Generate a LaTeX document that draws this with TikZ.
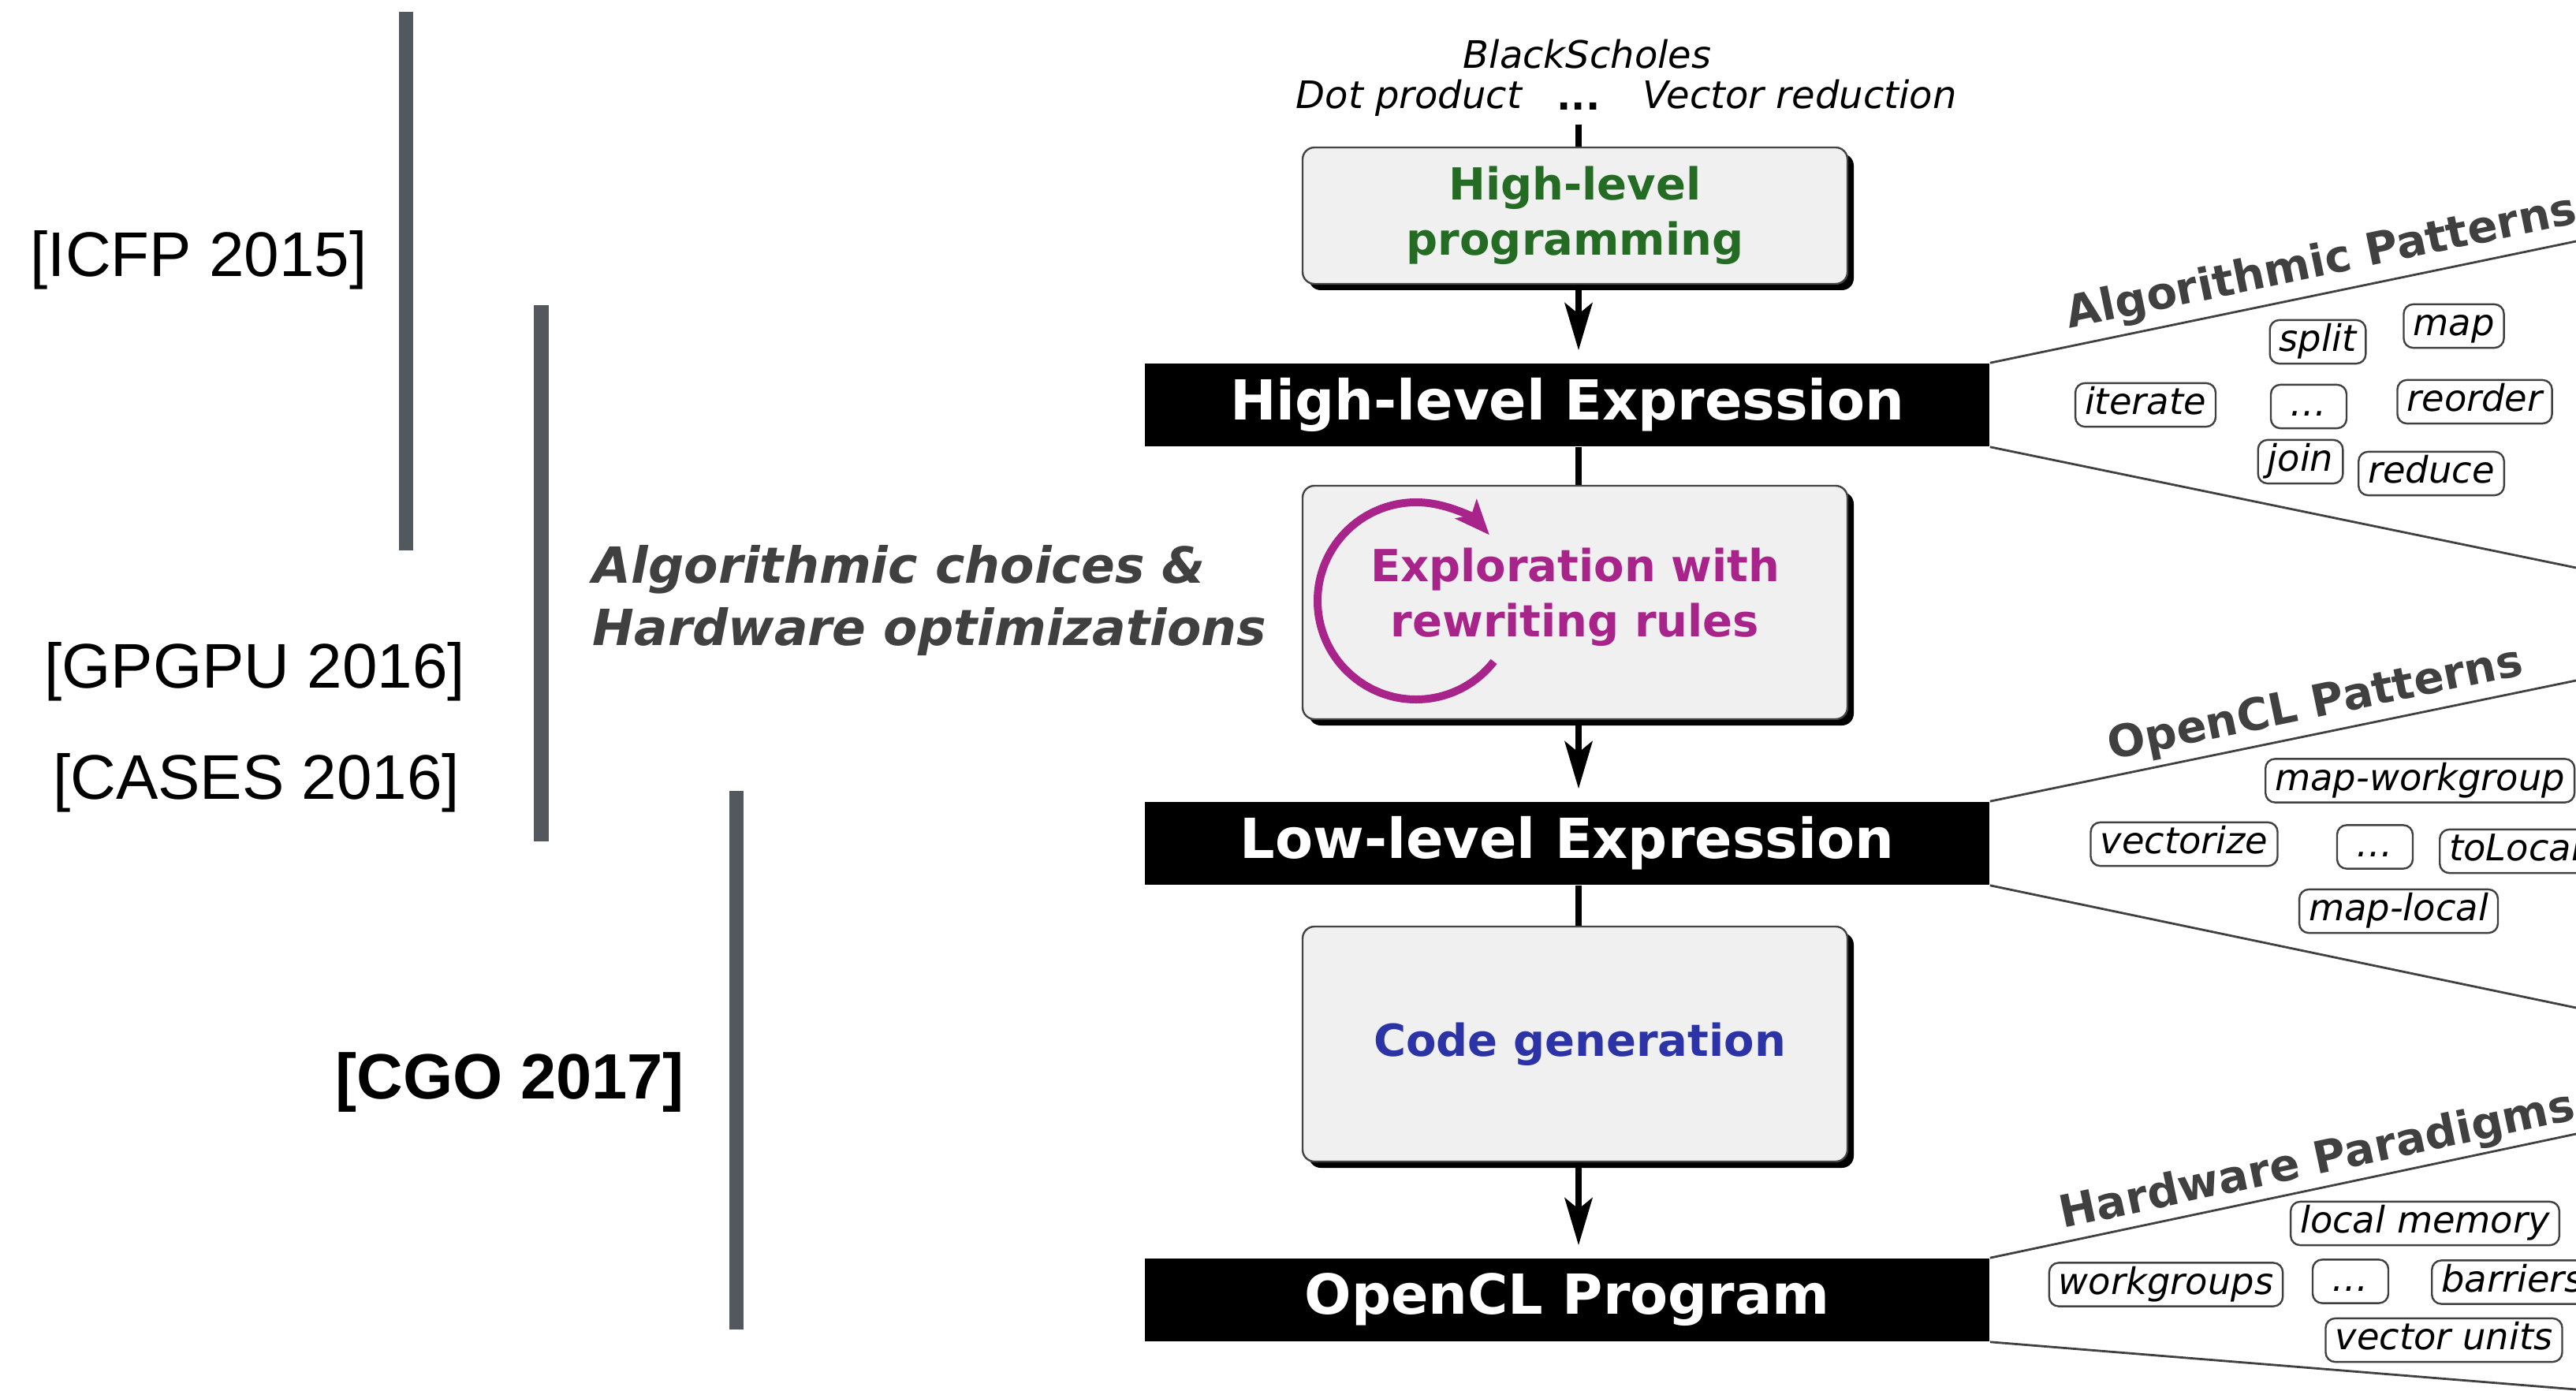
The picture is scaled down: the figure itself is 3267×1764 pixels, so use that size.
\documentclass[tikz,border=0pt]{standalone}
\usepackage{fontspec}
\setmainfont{DejaVu Sans}
\newfontfamily\venuefont{Liberation Sans}
\usetikzlibrary{arrows.meta,shadows}

\definecolor{stageGreen}{HTML}{246B24}
\definecolor{rewriteMagenta}{HTML}{A8238A}
\definecolor{codegenBlue}{HTML}{2B33A6}
\definecolor{timelineGray}{HTML}{53575E}
\definecolor{textGray}{HTML}{404040}
\definecolor{boxFill}{HTML}{F0F0F0}
\definecolor{boxBorder}{HTML}{444444}

\newcommand\setfs[2]{\fontsize{#1}{#2}\selectfont}

\begin{document}
\begin{tikzpicture}[x=0.25pt,y=0.25pt,
  stage/.style={draw=boxBorder, line width=0.6pt, fill=boxFill, rounded corners=3.75pt,
    general shadow={fill=black, shadow xshift=2pt, shadow yshift=-2pt},
    minimum width=172.75pt, align=center, inner sep=0pt, font=\bfseries\setfs{14}{17.5}},
  level/.style={fill=black, text=white, minimum width=267.75pt, minimum height=26.25pt,
    inner sep=0pt, font=\bfseries\setfs{17.5}{21}},
  conn/.style={line width=2pt, draw=black},
  arr/.style={conn, -{Stealth[length=15pt,width=8.75pt,inset=3.5pt]}, shorten >=4pt},
  fan/.style={draw=textGray, line width=0.7pt},
  fanlabel/.style={anchor=base west, text=textGray, inner sep=0pt, font=\bfseries\setfs{14.1}{16}},
  pill/.style={draw=textGray, line width=0.6pt, fill=white, rounded corners=3pt,
    font=\itshape\setfs{11.6}{14}, inner xsep=3pt, inner ysep=1.3pt,
    text height=8.6pt, text depth=2.6pt},
  dotpill/.style={pill, minimum width=24pt},
  venue/.style={anchor=base, inner sep=0pt, font=\venuefont\setfs{20}{24}},
  toplabel/.style={inner sep=0pt, font=\itshape\setfs{12}{14}},
  choice/.style={anchor=base west, inner sep=0pt, text=textGray, font=\bfseries\itshape\setfs{15.8}{19}}
]
\useasboundingbox (0,0) rectangle (3267,-1764);
\clip (0,0) rectangle (3267,-1764);

% publication timeline bars
\fill[timelineGray] (506,-15) rectangle (524,-698);
\fill[timelineGray] (677,-387) rectangle (696,-1067);
\fill[timelineGray] (925,-1003) rectangle (943,-1686);

% venues
\node[venue] (icfp) at (252,-351) {[ICFP 2015]};
\node[venue] (gpgpu) at (323,-872) {[GPGPU 2016]};
\node[venue] (cases) at (325,-1013) {[CASES 2016]};
\node[venue, font=\venuefont\bfseries\setfs{20.3}{24}] (cgo) at (647,-1393) {[CGO 2017]};

% side note
\node[choice] (ch1) at (751,-740) {Algorithmic choices \&};
\node[choice] (ch2) at (751,-818) {Hardware optimizations};

% benchmark inputs
\node[toplabel, anchor=base] (bs) at (2013,-87) {BlackScholes};
\node[toplabel, anchor=base west] (dotp) at (1643,-138) {Dot product};
\node[toplabel, anchor=base west] (vred) at (2083,-138) {Vector reduction};
\node[anchor=base, inner sep=0pt, font=\bfseries\setfs{12}{14}] (more) at (2002,-140) {...};
\coordinate (src) at (2002,-158);

% pipeline stages
\node[stage, minimum height=43.25pt, text=stageGreen] (prog) at (1997.5,-273.5) {High-level\\programming};
\node[level] (hle) at (1987.5,-513.5) {High-level Expression};
\node[stage, minimum height=74pt, text=rewriteMagenta] (explore) at (1997.5,-764)
  {Exploration with\\rewriting rules\rule[-6.3pt]{0pt}{6.3pt}};
\node[level] (lle) at (1987.5,-1069.5) {Low-level Expression};
\node[stage, minimum height=74.5pt, text=codegenBlue] (codegen) at (1997.5,-1324) {\hspace*{3pt}Code generation};
\node[level] (ocl) at (1987.5,-1648.5) {OpenCL Program};

% rewriting loop
\coordinate (loopc) at (1796,-762);
\draw[line width=2.5pt, rewriteMagenta, -{Stealth[length=11pt,width=9pt,inset=2.5pt]}]
  (loopc) ++(-38:125) arc[start angle=-38, end angle=-318, radius=31.25pt];

% connectors along the pipeline
\draw[conn] (src) -- (prog.north -| src);
\draw[arr] (prog.south -| src) -- (hle.north -| src);
\draw[conn] (hle.south -| src) -- (explore.north -| src);
\draw[arr] (explore.south -| src) -- (lle.north -| src);
\draw[conn] (lle.south -| src) -- (codegen.north -| src);
\draw[arr] (codegen.south -| src) -- (ocl.north -| src);

% fans
\coordinate (f1a) at (3267,-306);
\coordinate (f1b) at (3267,-720);
\coordinate (f2a) at (3267,-863);
\coordinate (f2b) at (3267,-1278);
\coordinate (f3a) at (3267,-1438);
\coordinate (f3b) at (3267,-1762);
\draw[fan] (hle.north east) -- (f1a);
\draw[fan] (hle.south east) -- (f1b);
\draw[fan] (lle.north east) -- (f2a);
\draw[fan] (lle.south east) -- (f2b);
\draw[fan] (ocl.north east) -- (f3a);
\draw[fan] (ocl.south east) -- (f3b);

\node[fanlabel, rotate=11.75] (algpat) at (2624,-417) {Algorithmic Patterns};
\node[fanlabel, rotate=11.7] (oclpat) at (2677,-964) {OpenCL Patterns};
\node[fanlabel, rotate=12] (hwpar) at (2616,-1558) {Hardware Paradigms};

% algorithmic patterns
\node[pill] (split) at (2939.5,-433.5) {split};
\node[pill] (map) at (3112,-413.5) {map};
\node[pill] (iterate) at (2721,-513.5) {iterate};
\node[dotpill] (dotsA) at (2928,-515.5) {…};
\node[pill] (reorder) at (3138.5,-509.5) {reorder};
\node[pill] (join) at (2917.5,-585.5) {join};
\node[pill] (reduce) at (3083.5,-600.5) {reduce};

% OpenCL patterns
\node[pill, anchor=west] (mapwg) at (2872,-990) {map-workgroup};
\node[pill] (vectorize) at (2770,-1070.5) {vectorize};
\node[dotpill] (dotsB) at (3012,-1074) {…};
\node[pill, anchor=west] (tolocal) at (3093,-1079.5) {toLocal};
\node[pill] (maplocal) at (3042,-1155.5) {map-local};

% hardware paradigms
\node[pill] (localmem) at (3075.5,-1551.5) {local memory};
\node[pill] (workgroups) at (2747,-1629) {workgroups};
\node[dotpill] (dotsC) at (2981,-1625) {…};
\node[pill, anchor=west] (barriers) at (3083,-1626) {barriers};
\node[pill] (vecunits) at (3099.5,-1699.5) {vector units};
\end{tikzpicture}
\end{document}
